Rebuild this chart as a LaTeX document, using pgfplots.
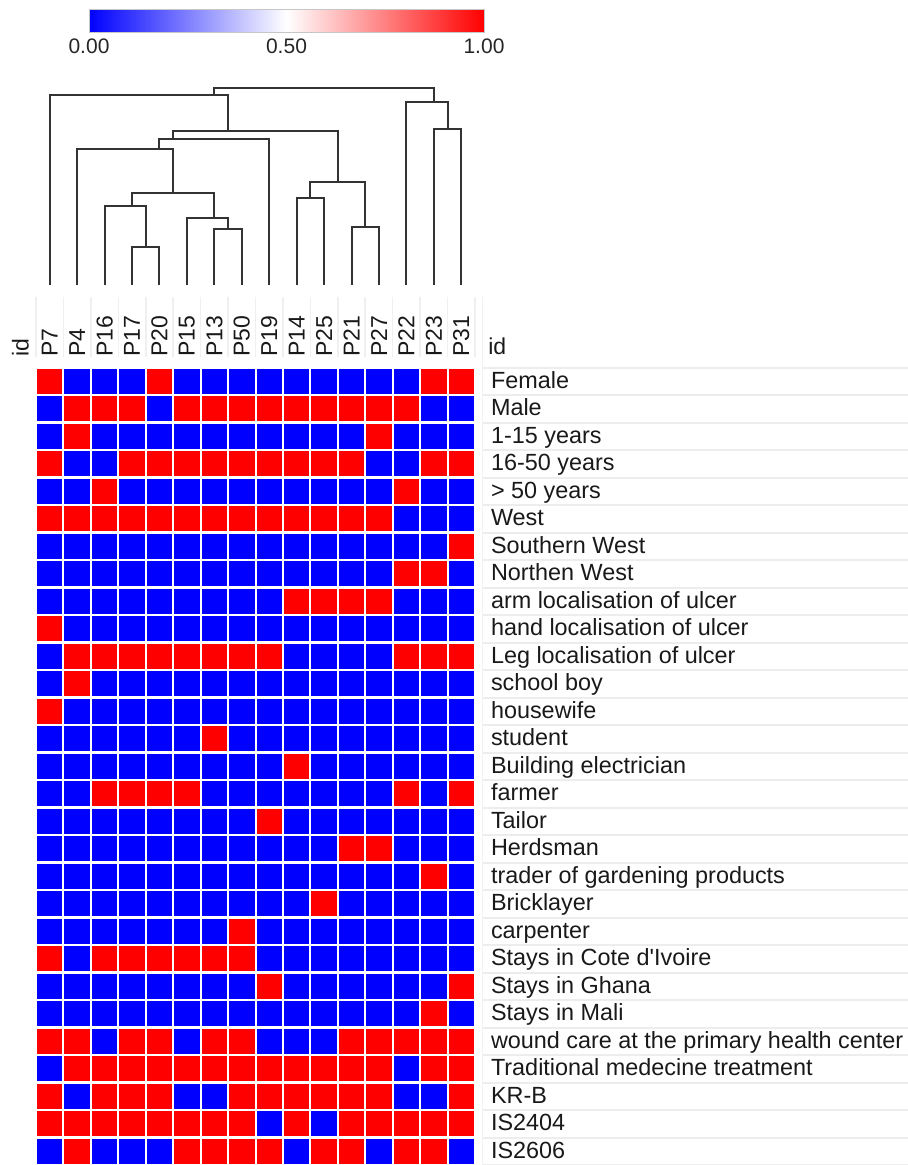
\documentclass[border=0pt]{standalone}
\usepackage{fontspec}
\setmainfont{Liberation Sans}
\usepackage{pgfplots}
\usepackage{pgfplotstable}
\pgfplotsset{compat=1.18}

\pgfplotstableread{
r c1 c2 c3 c4 c5 c6 c7 c8 c9 c10 c11 c12 c13 c14 c15 c16
1  1 0 0 0 1 0 0 0 0 0 0 0 0 0 1 1
2  0 1 1 1 0 1 1 1 1 1 1 1 1 1 0 0
3  0 1 0 0 0 0 0 0 0 0 0 0 1 0 0 0
4  1 0 0 1 1 1 1 1 1 1 1 1 0 0 1 1
5  0 0 1 0 0 0 0 0 0 0 0 0 0 1 0 0
6  1 1 1 1 1 1 1 1 1 1 1 1 1 0 0 0
7  0 0 0 0 0 0 0 0 0 0 0 0 0 0 0 1
8  0 0 0 0 0 0 0 0 0 0 0 0 0 1 1 0
9  0 0 0 0 0 0 0 0 0 1 1 1 1 0 0 0
10 1 0 0 0 0 0 0 0 0 0 0 0 0 0 0 0
11 0 1 1 1 1 1 1 1 1 0 0 0 0 1 1 1
12 0 1 0 0 0 0 0 0 0 0 0 0 0 0 0 0
13 1 0 0 0 0 0 0 0 0 0 0 0 0 0 0 0
14 0 0 0 0 0 0 1 0 0 0 0 0 0 0 0 0
15 0 0 0 0 0 0 0 0 0 1 0 0 0 0 0 0
16 0 0 1 1 1 1 0 0 0 0 0 0 0 1 0 1
17 0 0 0 0 0 0 0 0 1 0 0 0 0 0 0 0
18 0 0 0 0 0 0 0 0 0 0 0 1 1 0 0 0
19 0 0 0 0 0 0 0 0 0 0 0 0 0 0 1 0
20 0 0 0 0 0 0 0 0 0 0 1 0 0 0 0 0
21 0 0 0 0 0 0 0 1 0 0 0 0 0 0 0 0
22 1 0 1 1 1 1 1 1 0 0 0 0 0 0 0 0
23 0 0 0 0 0 0 0 0 1 0 0 0 0 0 0 1
24 0 0 0 0 0 0 0 0 0 0 0 0 0 0 1 0
25 1 1 0 1 1 0 1 1 0 0 0 1 1 1 1 1
26 0 1 1 1 1 1 1 1 1 1 1 1 1 0 1 1
27 1 0 1 1 1 0 0 1 1 1 1 1 1 0 0 1
28 1 1 1 1 1 1 1 1 0 1 0 1 1 1 1 1
29 0 1 0 0 0 1 1 1 1 0 1 1 0 1 1 0
}\hm

\pgfplotsset{
  colormap={bwr}{rgb255=(0,0,255) rgb255=(255,255,255) rgb255=(255,0,0)},
  dendro/.style={black!80, line width=1pt, mark=none, sharp plot, line join=miter},
}

\begin{document}
\begin{tikzpicture}
\useasboundingbox (0,0) rectangle (454pt,-582.5pt);

% colour scale
\begin{axis}[
  at={(44.5pt,-5pt)}, anchor=north west,
  hide axis, scale only axis, width=197.5pt, height=11.5pt,
  point meta min=0, point meta max=1,
  colorbar horizontal,
  colorbar style={
    at={(parent axis.north west)}, anchor=north west, yshift=9pt,
    scale only axis, width=197.5pt, height=11.5pt,
    xtick={0,0.5,1},
    xticklabel pos=lower,
    major tick length=0pt,
    axis line style={draw=gray!45, line width=0.5pt},
    xticklabel style={font=\fontsize{10.5}{12}\selectfont, text=black!85, inner sep=3.3pt,
      /pgf/number format/.cd, fixed, fixed zerofill, precision=2, assume math mode=true},
  },
]
\addplot[draw=none] coordinates {(0,0)};
\end{axis}

% dendrogram
\begin{axis}[
  at={(18pt,-40pt)}, anchor=north west,
  scale only axis, width=219.5pt, height=110pt,
  xmin=0.5, xmax=16.5, ymin=80, ymax=300, y dir=reverse,
  hide axis, clip=false,
]
\addplot[dendro] coordinates {(4,285) (4,246.7) (5,246.7) (5,285)};
\addplot[dendro] coordinates {(3,285) (3,206) (4.5,206) (4.5,246.7)};
\addplot[dendro] coordinates {(7,285) (7,229.3) (8,229.3) (8,285)};
\addplot[dendro] coordinates {(6,285) (6,218.3) (7.5,218.3) (7.5,229.3)};
\addplot[dendro] coordinates {(4,206) (4,192.7) (7,192.7) (7,218.3)};
\addplot[dendro] coordinates {(2,285) (2,149) (5.5,149) (5.5,192.7)};
\addplot[dendro] coordinates {(5,149) (5,139.3) (9,139.3) (9,285)};
\addplot[dendro] coordinates {(10,285) (10,197.7) (11,197.7) (11,285)};
\addplot[dendro] coordinates {(12,285) (12,226.7) (13,226.7) (13,285)};
\addplot[dendro] coordinates {(10.5,197.7) (10.5,182.3) (12.5,182.3) (12.5,226.7)};
\addplot[dendro] coordinates {(5.5,139.3) (5.5,131) (11.5,131) (11.5,182.3)};
\addplot[dendro] coordinates {(1,285) (1,95) (7.5,95) (7.5,131)};
\addplot[dendro] coordinates {(15,285) (15,129.3) (16,129.3) (16,285)};
\addplot[dendro] coordinates {(14,285) (14,102.3) (15.5,102.3) (15.5,129.3)};
\addplot[dendro] coordinates {(7,95) (7,88.3) (15,88.3) (15,102.3)};
\end{axis}

% heatmap
\begin{axis}[
  at={(18pt,-183.75pt)}, anchor=north west,
  scale only axis, width=219.5pt, height=398.75pt,
  xmin=0.5, xmax=16.5, ymin=0.5, ymax=29.5, y dir=reverse,
  axis line style={draw=none}, clip=false,
  point meta min=0, point meta max=1,
  major tick length=0pt, tick style={draw=none},
  xtick={1,...,16},
  xticklabels={P7,P4,P16,P17,P20,P15,P13,P50,P19,P14,P25,P21,P27,P22,P23,P31},
  xticklabel pos=upper,
  xticklabel style={rotate=90, anchor=west, inner xsep=5.5pt, inner ysep=0pt, outer sep=0pt,
    font=\fontsize{11.5}{13}\selectfont, text=black!90},
  ytick={1,...,29},
  yticklabels={{Female},{Male},{1-15 years},{16-50 years},{> 50 years},{West},{Southern West},
    {Northen West},{arm localisation of ulcer},{hand localisation of ulcer},
    {Leg localisation of ulcer},{school boy},{housewife},{student},{Building electrician},
    {farmer},{Tailor},{Herdsman},{trader of gardening products},{Bricklayer},{carpenter},
    {Stays in Cote d\textquotesingle Ivoire},{Stays in Ghana},{Stays in Mali},
    {wound care at the primary health center},{Traditional medecine treatment},
    {KR-B},{IS2404},{IS2606}},
  yticklabel pos=right,
  yticklabel style={anchor=base west, yshift=-3.6pt, inner xsep=8pt, inner ysep=0pt, outer sep=0pt,
    font=\fontsize{11.7}{13}\selectfont, text=black!90},
]
% light separators
\pgfplotsinvokeforeach{0,...,29}{
  \draw[gray!14, line width=1pt] (axis cs:16.78,{#1+0.5}) -- (axis cs:32.3,{#1+0.5});
}
\pgfplotsinvokeforeach{0,...,16}{
  \draw[gray!12, line width=0.8pt] (axis cs:{#1+0.5},-2.06) -- (axis cs:{#1+0.5},0.12);
}
\draw[gray!10, line width=0.8pt] (axis cs:16.78,-2.06) -- (axis cs:16.78,29.5);
% cells
\pgfplotsinvokeforeach{1,...,16}{
  \addplot[scatter, only marks, mark=square*, mark size=6.86pt, scatter src=explicit,
    mark options={line width=1pt},
    scatter/use mapped color={draw=white, fill=mapped color}]
    table[x expr=#1, y=r, meta=c#1] {\hm};
}
\node[rotate=90, anchor=west, inner xsep=5.5pt, inner ysep=0pt, outer sep=0pt,
  font=\fontsize{11.5}{13}\selectfont, text=black!90] at (axis cs:-0.065,0.5) {id};
\node[anchor=base west, inner sep=0pt, font=\fontsize{11.5}{13}\selectfont, text=black!90]
  at (axis cs:16.97,0.045) {id};
\end{axis}
\end{tikzpicture}
\end{document}
